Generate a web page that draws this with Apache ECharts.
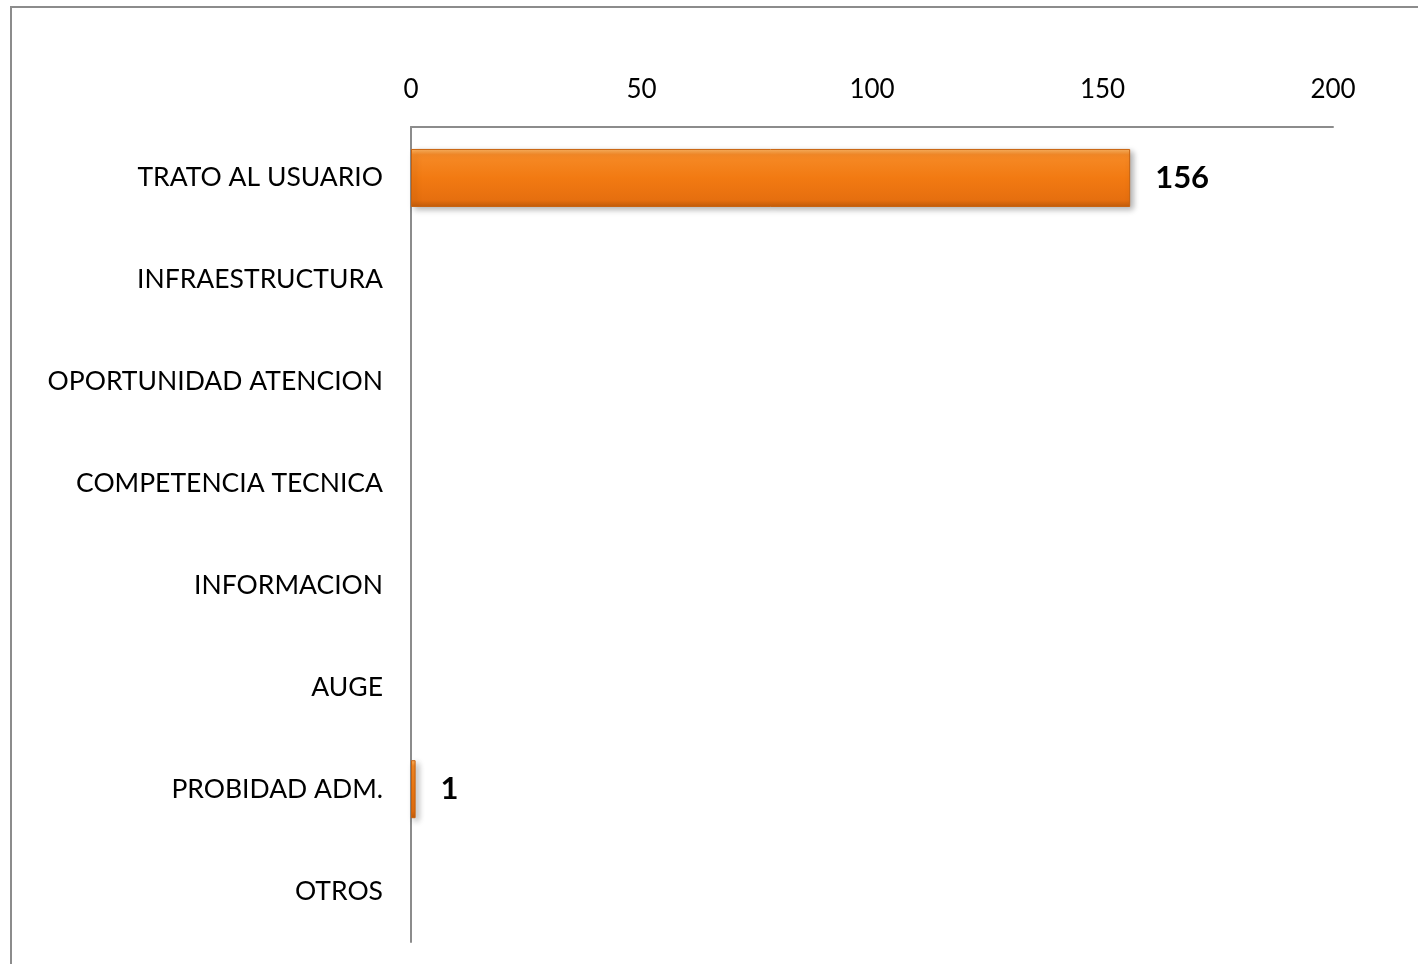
<!DOCTYPE html>
<html>
<head>
<meta charset="utf-8">
<title>Reclamos por categoria</title>
<script src="https://cdn.jsdelivr.net/npm/echarts@6/dist/echarts.min.js"></script>
<style>
    html, body { margin: 0; padding: 0; background: #fff; }
    #chart { width: 1418px; height: 964px; }
</style>
</head>
<body>
<div id="chart"></div>
<script>
    // categorias (de arriba hacia abajo)
    var categorias = ['TRATO AL USUARIO', 'INFRAESTRUCTURA', 'OPORTUNIDAD ATENCION', 'COMPETENCIA TECNICA',
        'INFORMACION', 'AUGE', 'PROBIDAD ADM.', 'OTROS'];
    var valores = [156, null, null, null, null, null, 1, null];
    var ticksX = [0, 50, 100, 150, 200];

    var chart = echarts.init(document.getElementById('chart'));
    var option = {
        animation: false,
        textStyle: { fontFamily: 'Lato, "Open Sans", sans-serif' },
        graphic: [{
            type: 'rect',
            shape: { x: 11, y: 7, width: 1440, height: 990 },
            style: { fill: 'none', stroke: '#8c8c8c', lineWidth: 2 },
            silent: true
        }],
        grid: { left: 411, right: 85, top: 127, bottom: 22, containLabel: false },
        xAxis: {
            type: 'value',
            position: 'top',
            min: ticksX[0],
            max: ticksX[ticksX.length - 1],
            interval: 50,
            axisLine: { show: true, lineStyle: { color: '#8c8c8c', width: 2 } },
            axisTick: { show: false },
            splitLine: { show: false },
            axisLabel: { color: '#000', fontSize: 26, margin: 24 }
        },
        yAxis: {
            type: 'category',
            inverse: true,
            data: categorias,
            axisLine: { show: true, lineStyle: { color: '#8c8c8c', width: 2 } },
            axisTick: { show: false },
            axisLabel: { color: '#000', fontSize: 26.5, margin: 28, padding: [5, 0, 0, 0] }
        },
        series: [{
            type: 'bar',
            data: valores,
            barWidth: 58,
            itemStyle: {
                color: new echarts.graphic.LinearGradient(0, 0, 0, 1, [
                    { offset: 0, color: '#fcb462' },
                    { offset: 0.1, color: '#f68a26' },
                    { offset: 0.5, color: '#f27a12' },
                    { offset: 0.88, color: '#e66f0f' },
                    { offset: 1, color: '#c45d0c' }
                ]),
                borderColor: '#c8620e',
                borderWidth: 1,
                shadowColor: 'rgba(0,0,0,0.3)',
                shadowBlur: 6,
                shadowOffsetX: 3,
                shadowOffsetY: 3
            },
            label: {
                show: true,
                position: 'right',
                distance: 25,
                color: '#000',
                fontSize: 31,
                fontWeight: 'bold',
                padding: [7, 0, 0, 0]
            }
        }]
    };
    chart.setOption(option);
</script>
</body>
</html>
